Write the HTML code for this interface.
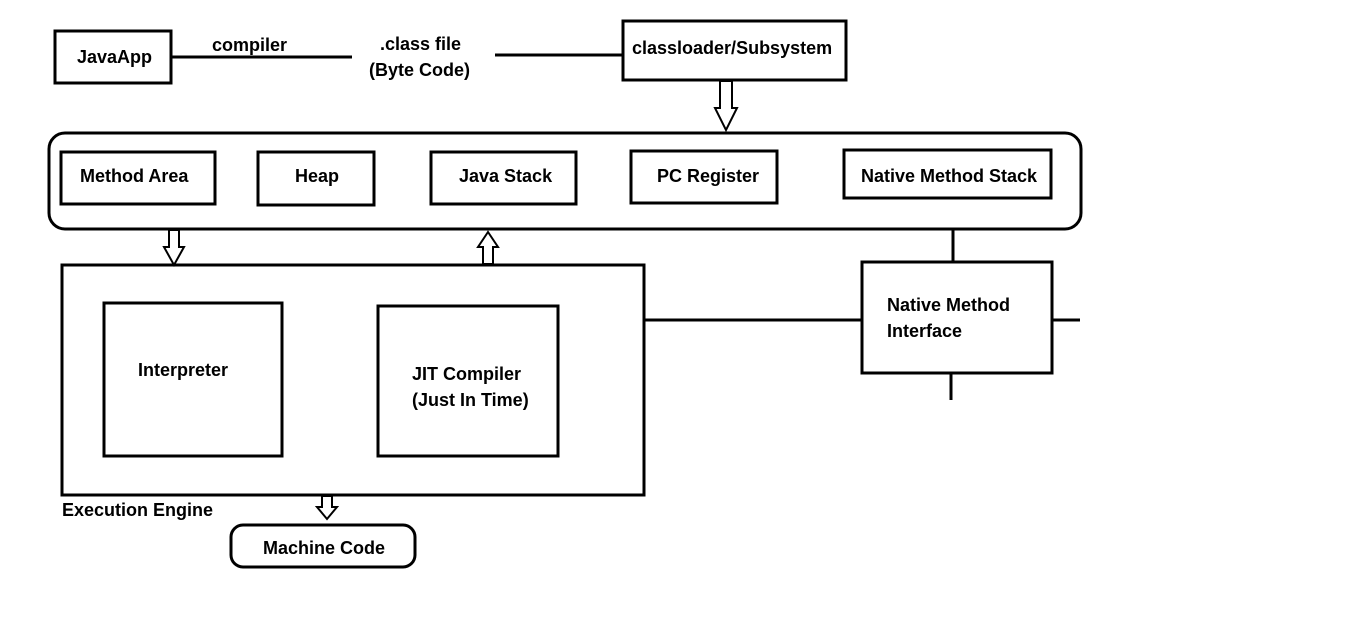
<!DOCTYPE html>
<html><head><style>
html,body{margin:0;padding:0;background:#fff;}
svg{display:block;}
text{font-family:"Liberation Sans",sans-serif;font-weight:bold;font-size:18px;fill:#000;}
</style></head><body>
<svg width="1360" height="618" viewBox="0 0 1360 618" xmlns="http://www.w3.org/2000/svg">
<g fill="none" stroke="#000" stroke-width="3">
<rect x="55" y="31" width="116" height="52"/>
<line x1="171" y1="57" x2="352" y2="57"/>
<line x1="495" y1="55" x2="623" y2="55"/>
<rect x="623" y="21" width="223" height="59"/>
<rect x="49" y="133" width="1032" height="96" rx="16"/>
<rect x="61" y="152" width="154" height="52"/>
<rect x="258" y="152" width="116" height="53"/>
<rect x="431" y="152" width="145" height="52"/>
<rect x="631" y="151" width="146" height="52"/>
<rect x="844" y="150" width="207" height="48"/>
<rect x="62" y="265" width="582" height="230"/>
<rect x="104" y="303" width="178" height="153"/>
<rect x="378" y="306" width="180" height="150"/>
<line x1="644" y1="320" x2="862" y2="320"/>
<rect x="862" y="262" width="190" height="111"/>
<line x1="953" y1="229" x2="953" y2="262"/>
<line x1="1052" y1="320" x2="1080" y2="320"/>
<line x1="951" y1="373" x2="951" y2="400"/>
<rect x="231" y="525" width="184" height="42" rx="12"/>
</g>
<g fill="#fff" stroke="#000" stroke-width="2">
<polygon points="720,81 732,81 732,108 737,108 726,130 715,108 720,108"/>
<polygon points="169,230 179,230 179,247 184,247 174,265 164,247 169,247"/>
<polygon points="483,264 493,264 493,247 498,247 488,232 478,247 483,247"/>
<polygon points="322,496 332,496 332,507 337,507 327,519 317,507 322,507"/>
</g>
<text x="77" y="63">JavaApp</text>
<text x="212" y="51">compiler</text>
<text x="380" y="50">.class file</text>
<text x="369" y="76">(Byte Code)</text>
<text x="632" y="54">classloader/Subsystem</text>
<text x="80" y="182">Method Area</text>
<text x="295" y="182">Heap</text>
<text x="459" y="182">Java Stack</text>
<text x="657" y="182">PC Register</text>
<text x="861" y="182">Native Method Stack</text>
<text x="138" y="376">Interpreter</text>
<text x="412" y="380">JIT Compiler</text>
<text x="412" y="406">(Just In Time)</text>
<text x="887" y="311">Native Method</text>
<text x="887" y="337">Interface</text>
<text x="62" y="516">Execution Engine</text>
<text x="263" y="554">Machine Code</text>
</svg>
</body></html>
